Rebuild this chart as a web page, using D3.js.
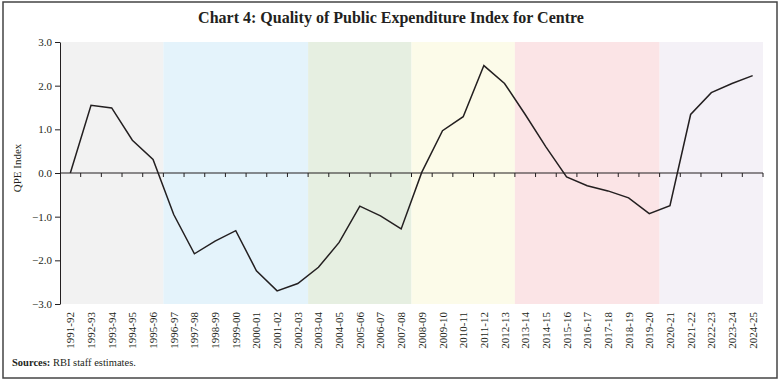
<!DOCTYPE html>
<html>
<head>
<meta charset="utf-8">
<script src="https://cdn.jsdelivr.net/npm/d3@7"></script>
<style>
  body { margin: 0; background: #fff; }
  svg { display: block; font-family: "Liberation Serif", "DejaVu Serif", serif; }
</style>
</head>
<body>
<svg></svg>
<script>
// years on the x axis
var years = ["1991-92","1992-93","1993-94","1994-95","1995-96","1996-97","1997-98","1998-99","1999-00",
  "2000-01","2001-02","2002-03","2003-04","2004-05","2005-06","2006-07","2007-08","2008-09","2009-10",
  "2010-11","2011-12","2012-13","2013-14","2014-15","2015-16","2016-17","2017-18","2018-19","2019-20",
  "2020-21","2021-22","2022-23","2023-24","2024-25"];

// QPE index values
var qpe = [0.0, 1.55, 1.49, 0.75, 0.31, -0.95, -1.85, -1.56, -1.32,
  -2.24, -2.70, -2.53, -2.16, -1.59, -0.76, -0.98, -1.28, 0.02, 0.97,
  1.29, 2.46, 2.05, 1.34, 0.60, -0.09, -0.29, -0.41, -0.57, -0.93,
  -0.75, 1.34, 1.84, 2.05, 2.23];

// shaded periods: first and last year of each band
var periodStart = ["1991-92","1996-97","2003-04","2008-09","2013-14","2020-21"];
var periodEnd   = ["1995-96","2002-03","2007-08","2012-13","2019-20","2024-25"];
var periodColor = ["#f2f2f2","#e4f3fb","#e6efe1","#fcfbe9","#fbe4e6","#f4f1f7"];

var yTicks = [3, 2, 1, 0, -1, -2, -3];

var svg = d3.select("svg"),
    margin = {top: 42, right: 19, bottom: 77, left: 60},
    W = 782, H = 381,
    width = W - margin.left - margin.right,
    height = H - margin.top - margin.bottom;

svg.attr("width", W).attr("height", H);

// outer frame
svg.append("rect")
  .attr("x", 3).attr("y", 2)
  .attr("width", 774).attr("height", 376)
  .attr("fill", "none")
  .attr("stroke", "#444")
  .attr("stroke-width", 1.5);

// title
svg.append("text")
  .attr("x", W / 2).attr("y", 23)
  .attr("text-anchor", "middle")
  .attr("font-size", 16)
  .attr("font-weight", "bold")
  .attr("fill", "#231f20")
  .text("Chart 4: Quality of Public Expenditure Index for Centre");

var g = svg.append("g")
  .attr("transform", "translate(" + margin.left + "," + margin.top + ")");

var x = d3.scaleBand().domain(years).range([0, width]).padding(0);
var y = d3.scaleLinear().domain([-3, 3]).range([height, 0]);

// background bands
g.selectAll(".period")
  .data(periodStart)
  .enter().append("rect")
    .attr("class", "period")
    .attr("x", function(d) { return x(d); })
    .attr("y", y(3))
    .attr("width", function(d, i) { return x(periodEnd[i]) + x.bandwidth() - x(d); })
    .attr("height", y(-3) - y(3))
    .attr("fill", function(d, i) { return periodColor[i]; });

// y axis
var yAxis = g.append("g")
  .call(d3.axisLeft(y).tickValues(yTicks).tickFormat(d3.format(".1f")).tickSize(5).tickSizeOuter(0));
yAxis.select(".domain").attr("stroke", "#231f20");
yAxis.selectAll(".tick line").attr("stroke", "#231f20");
yAxis.selectAll("text")
  .attr("font-family", "Liberation Serif, serif")
  .attr("font-size", 11)
  .attr("fill", "#231f20")
  .attr("x", -8);

svg.append("text")
  .attr("transform", "translate(21," + (margin.top + y(0) - 5) + ") rotate(-90)")
  .attr("text-anchor", "middle")
  .attr("font-size", 11)
  .attr("fill", "#231f20")
  .text("QPE Index");

// x axis on the zero line, ticks at band edges
var edges = years.map(function(d) { return x(d); }).concat([width]);
var xa = g.append("g").attr("transform", "translate(0," + y(0) + ")");
xa.append("line")
  .attr("x1", 0).attr("x2", width)
  .attr("stroke", "#231f20").attr("stroke-width", 1.2);
xa.selectAll(".edge")
  .data(edges.slice(1))
  .enter().append("line")
    .attr("x1", function(d) { return d; })
    .attr("x2", function(d) { return d; })
    .attr("y1", 0).attr("y2", 4)
    .attr("stroke", "#231f20");

// x labels below the plot
g.selectAll(".yearlbl")
  .data(years)
  .enter().append("text")
    .attr("class", "yearlbl")
    .attr("transform", function(d) {
      return "translate(" + (x(d) + x.bandwidth() / 2 + 4) + "," + (height + 8) + ") rotate(-90)";
    })
    .attr("text-anchor", "end")
    .attr("font-size", 11)
    .attr("fill", "#231f20")
    .text(function(d) { return d; });

// line
var line = d3.line()
  .x(function(d, i) { return x(years[i]) + x.bandwidth() / 2; })
  .y(function(d) { return y(d); });

g.append("path")
  .datum(qpe)
  .attr("fill", "none")
  .attr("stroke", "#231f20")
  .attr("stroke-width", 1.5)
  .attr("d", line);

// source note
var src = svg.append("text")
  .attr("x", 12).attr("y", 366)
  .attr("font-size", 10.5)
  .attr("fill", "#231f20");
src.append("tspan").attr("font-weight", "bold").text("Sources:");
src.append("tspan").text(" RBI staff estimates.");
</script>
</body>
</html>
